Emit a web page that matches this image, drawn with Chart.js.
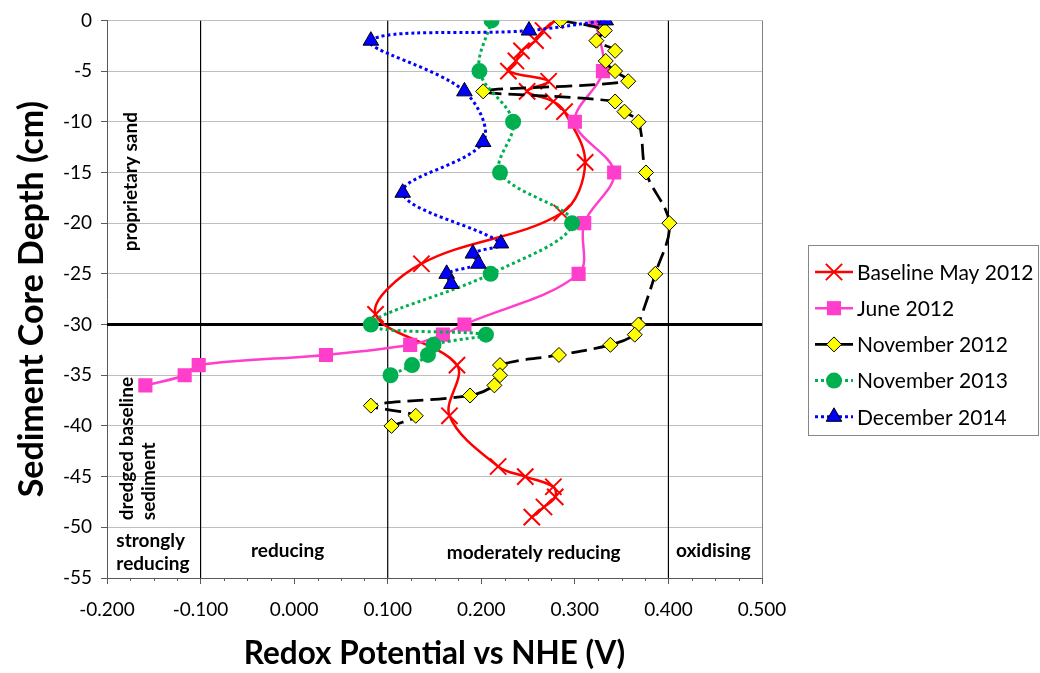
<!DOCTYPE html>
<html>
<head>
<meta charset="utf-8">
<script src="https://cdn.jsdelivr.net/npm/chart.js@4.4.1/dist/chart.umd.min.js"></script>
<style>
  html, body { margin: 0; padding: 0; background: #ffffff; }
  #wrap { width: 1040px; height: 673px; position: relative; }
</style>
</head>
<body>
<div id="wrap"><canvas id="redox" width="1040" height="673"></canvas></div>
<script>
// ---- Redox profiles: potential (V vs NHE) against sediment core depth (cm) ----
const baselineDepth = [0, -1, -2, -3, -4, -5, -6, -7, -8, -9, -14, -19, -24, -29, -34, -39, -44, -45, -46, -47, -48, -49];
const baselineRedox = [0.279, 0.266, 0.258, 0.243, 0.237, 0.229, 0.272, 0.249, 0.277, 0.289, 0.311, 0.286, 0.136, 0.087, 0.174, 0.166, 0.218, 0.247, 0.277, 0.279, 0.267, 0.254];

const june2012Depth = [0, -5, -10, -15, -20, -25, -30, -31, -32, -33, -34, -35, -36];
const june2012Redox = [0.322, 0.330, 0.300, 0.342, 0.310, 0.304, 0.182, 0.159, 0.124, 0.034, -0.102, -0.117, -0.159];

const nov2012Depth = [0, -1, -2, -3, -4, -5, -6, -7, -8, -9, -10, -15, -20, -25, -30, -31, -32, -33, -34, -35, -36, -37, -38, -39, -40];
const nov2012Redox = [0.285, 0.332, 0.323, 0.343, 0.333, 0.343, 0.357, 0.202, 0.343, 0.353, 0.368, 0.376, 0.401, 0.386, 0.368, 0.364, 0.338, 0.283, 0.220, 0.220, 0.214, 0.188, 0.082, 0.130, 0.104];

const nov2013Depth = [0, -5, -10, -15, -20, -25, -30, -31, -32, -33, -34, -35];
const nov2013Redox = [0.211, 0.198, 0.234, 0.220, 0.297, 0.210, 0.082, 0.205, 0.149, 0.143, 0.126, 0.103];

const dec2014Depth = [0, -1, -2, -7, -12, -17, -22, -23, -24, -25, -26];
const dec2014Redox = [0.333, 0.251, 0.082, 0.182, 0.202, 0.116, 0.221, 0.191, 0.197, 0.163, 0.168];

const seriesNames = ['Baseline May 2012', 'June 2012', 'November 2012', 'November 2013', 'December 2014'];

// Axis ticks
const xTickValues = [-0.2, -0.1, 0, 0.1, 0.2, 0.3, 0.4, 0.5];
const xTickLabels = ['-0.200', '-0.100', '0.000', '0.100', '0.200', '0.300', '0.400', '0.500'];
const yTickValues = [0, -5, -10, -15, -20, -25, -30, -35, -40, -45, -50, -55];
const yTickLabels = ['0', '-5', '-10', '-15', '-20', '-25', '-30', '-35', '-40', '-45', '-50', '-55'];

// Redox zone boundaries (V) and the sand / dredged sediment interface (cm)
const zoneBoundaries = [-0.1, 0.1, 0.4];
const layerInterface = -30;

const FONT = 'Lato, "Open Sans", "Liberation Sans", sans-serif';

function points(xs, ys) {
  return xs.map((x, i) => ({ x: x, y: ys[i] }));
}

const seriesStyles = [
  { color: '#FF0000', fill: '#FF0000', marker: 'crossRot', radius: 11.5, markerBorder: '#FF0000', markerWidth: 2, width: 2.5, dash: [] },
  { color: '#FF3FCB', fill: '#FF3FCB', marker: 'rect', radius: 10, markerBorder: '#FF3FCB', markerWidth: 0, width: 2.5, dash: [] },
  { color: '#000000', fill: '#FFFF00', marker: 'rectRot', radius: 7.5, markerBorder: '#000000', markerWidth: 1, width: 2.75, dash: [16, 7] },
  { color: '#00B050', fill: '#00B050', marker: 'circle', radius: 8, markerBorder: '#00B050', markerWidth: 0, width: 3, dash: [3, 3] },
  { color: '#0000FF', fill: '#0000FF', marker: 'triangle', radius: 9, markerBorder: '#000000', markerWidth: 1, width: 3, dash: [3, 3] }
];

const seriesData = [
  points(baselineRedox, baselineDepth),
  points(june2012Redox, june2012Depth),
  points(nov2012Redox, nov2012Depth),
  points(nov2013Redox, nov2013Depth),
  points(dec2014Redox, dec2014Depth)
];

const datasets = seriesData.map((data, i) => {
  const s = seriesStyles[i];
  return {
    label: seriesNames[i],
    data: data,
    showLine: true,
    tension: 0.35,
    borderColor: s.color,
    borderWidth: s.width,
    borderDash: s.dash,
    pointStyle: s.marker,
    pointRadius: s.radius,
    pointBackgroundColor: s.fill,
    pointBorderColor: s.markerBorder,
    pointBorderWidth: s.markerWidth,
    order: 5 - i
  };
});

// Zone boundary lines and the layer interface, behind the profiles
zoneBoundaries.forEach(v => {
  datasets.push({
    label: '',
    data: [{ x: v, y: 0 }, { x: v, y: -55 }],
    showLine: true, tension: 0, pointRadius: 0,
    borderColor: '#000000', borderWidth: 1.2, order: 10
  });
});
datasets.push({
  label: '',
  data: [{ x: -0.2, y: layerInterface }, { x: 0.5, y: layerInterface }],
  showLine: true, tension: 0, pointRadius: 0,
  borderColor: '#000000', borderWidth: 3, order: 9
});

// Text written inside the plot (data coordinates)
const zoneLabels = [
  { lines: ['strongly', 'reducing'], x: -0.190, y: -51.3, align: 'left' },
  { lines: ['reducing'], x: -0.007, y: -52.3, align: 'center' },
  { lines: ['moderately reducing'], x: 0.256, y: -52.5, align: 'center' },
  { lines: ['oxidising'], x: 0.448, y: -52.3, align: 'center' }
];
const layerLabels = [
  { text: 'proprietary sand', x: -0.174, y: -15.9, align: 'center' },
  { text: 'dredged baseline', x: -0.179, y: -49.3, align: 'left' },
  { text: 'sediment', x: -0.155, y: -49.3, align: 'left' }
];

const plotDecor = {
  id: 'plotDecor',
  beforeDatasetsDraw(chart) {
    const { ctx, chartArea, scales } = chart;
    ctx.save();
    // right frame edge
    ctx.strokeStyle = '#7F7F7F';
    ctx.lineWidth = 1;
    ctx.beginPath();
    ctx.moveTo(Math.round(chartArea.right) + 0.5, chartArea.top);
    ctx.lineTo(Math.round(chartArea.right) + 0.5, chartArea.bottom);
    ctx.stroke();
    ctx.fillStyle = '#000000';
    ctx.font = 'bold 19px ' + FONT;
    ctx.textBaseline = 'middle';
    zoneLabels.forEach(l => {
      ctx.textAlign = l.align;
      const px = scales.x.getPixelForValue(l.x);
      l.lines.forEach((t, k) => {
        ctx.fillText(t, px, scales.y.getPixelForValue(l.y) + k * 23);
      });
    });
    layerLabels.forEach(l => {
      ctx.save();
      ctx.translate(scales.x.getPixelForValue(l.x), scales.y.getPixelForValue(l.y));
      ctx.rotate(-Math.PI / 2);
      ctx.textAlign = l.align;
      ctx.fillText(l.text, 0, 0);
      ctx.restore();
    });
    ctx.restore();
  },
  afterDraw(chart) {
    const { ctx, chartArea, scales } = chart;
    ctx.save();
    // minor ticks on the redox axis
    ctx.strokeStyle = '#595959';
    ctx.lineWidth = 1;
    ctx.beginPath();
    for (let k = 0; k <= 28; k++) {
      if (k % 4 === 0) continue;
      const px = Math.round(scales.x.getPixelForValue(-0.2 + k * 0.025)) + 0.5;
      ctx.moveTo(px, chartArea.bottom);
      ctx.lineTo(px, chartArea.bottom + 3);
    }
    ctx.stroke();
    ctx.restore();
    drawLegend(chart);
  }
};

function drawMarker(ctx, s, x, y) {
  const r = s.radius;
  ctx.save();
  ctx.setLineDash([]);
  ctx.fillStyle = s.fill;
  ctx.strokeStyle = s.markerBorder;
  ctx.lineWidth = s.markerWidth;
  ctx.beginPath();
  if (s.marker === 'crossRot') {
    const o = r * Math.SQRT1_2;
    ctx.moveTo(x - o, y - o); ctx.lineTo(x + o, y + o);
    ctx.moveTo(x + o, y - o); ctx.lineTo(x - o, y + o);
    ctx.stroke();
  } else if (s.marker === 'rect') {
    const o = r * Math.SQRT1_2;
    ctx.rect(x - o, y - o, 2 * o, 2 * o);
    ctx.fill();
  } else if (s.marker === 'rectRot') {
    ctx.moveTo(x - r, y); ctx.lineTo(x, y - r); ctx.lineTo(x + r, y); ctx.lineTo(x, y + r);
    ctx.closePath(); ctx.fill(); ctx.stroke();
  } else if (s.marker === 'circle') {
    ctx.arc(x, y, r, 0, Math.PI * 2);
    ctx.fill();
  } else if (s.marker === 'triangle') {
    ctx.moveTo(x, y - r);
    ctx.lineTo(x + Math.sin(Math.PI / 3) * r, y + r / 2);
    ctx.lineTo(x - Math.sin(Math.PI / 3) * r, y + r / 2);
    ctx.closePath(); ctx.fill(); ctx.stroke();
  }
  ctx.restore();
}

function drawLegend(chart) {
  const ctx = chart.ctx;
  const box = { x: 808.5, y: 245.5, w: 230, h: 190 };
  ctx.save();
  ctx.fillStyle = '#FFFFFF';
  ctx.fillRect(box.x, box.y, box.w, box.h);
  ctx.strokeStyle = '#868686';
  ctx.lineWidth = 1;
  ctx.strokeRect(box.x, box.y, box.w, box.h);
  ctx.font = '21px ' + FONT;
  ctx.textBaseline = 'middle';
  ctx.textAlign = 'left';
  seriesNames.forEach((name, i) => {
    const s = seriesStyles[i];
    const y = 272 + i * 36.2;
    ctx.save();
    ctx.strokeStyle = s.color;
    ctx.lineWidth = s.width;
    ctx.setLineDash(s.dash);
    ctx.beginPath();
    ctx.moveTo(815, y);
    ctx.lineTo(853, y);
    ctx.stroke();
    ctx.restore();
    drawMarker(ctx, s, 834, y);
    ctx.fillStyle = '#000000';
    ctx.fillText(name, 857, y + 1);
  });
  ctx.restore();
}

new Chart(document.getElementById('redox'), {
  type: 'scatter',
  data: { datasets: datasets },
  plugins: [plotDecor],
  options: {
    responsive: false,
    animation: false,
    events: [],
    layout: { padding: { top: 18, right: 278, bottom: 0, left: 0 } },
    plugins: { legend: { display: false }, tooltip: { enabled: false } },
    scales: {
      x: {
        type: 'linear', position: 'bottom', min: -0.2, max: 0.5,
        afterBuildTicks(scale) { scale.ticks = xTickValues.map(v => ({ value: v })); },
        afterFit(scale) { scale.height = 95; },
        ticks: {
          autoSkip: false, maxRotation: 0, padding: 14, color: '#000000',
          font: { family: FONT, size: 19 },
          callback: (value) => xTickLabels[xTickValues.findIndex(v => Math.abs(v - value) < 1e-9)]
        },
        grid: { drawOnChartArea: false, drawTicks: true, tickLength: 6, tickColor: '#595959' },
        border: { color: '#595959', width: 1 },
        title: {
          display: true, text: 'Redox Potential vs NHE (V)', color: '#000000',
          font: { family: FONT, size: 31.5, weight: 'bold' }, padding: { top: 0, bottom: 0 }
        }
      },
      y: {
        type: 'linear', position: 'left', min: -55, max: 0,
        afterBuildTicks(scale) { scale.ticks = yTickValues.slice().reverse().map(v => ({ value: v })); },
        afterFit(scale) { scale.width = 107; },
        ticks: {
          autoSkip: false, padding: 9, color: '#000000',
          font: { family: FONT, size: 19 },
          callback: (value) => yTickLabels[yTickValues.indexOf(value)]
        },
        grid: { color: '#BFBFBF', lineWidth: 1, drawTicks: true, tickLength: 6, tickColor: '#595959' },
        border: { color: '#595959', width: 1 },
        title: {
          display: true, text: 'Sediment Core Depth (cm)', color: '#000000',
          font: { family: FONT, size: 34, weight: 'bold' }, padding: { top: 12, bottom: 0 }
        }
      }
    }
  }
});
</script>
</body>
</html>
